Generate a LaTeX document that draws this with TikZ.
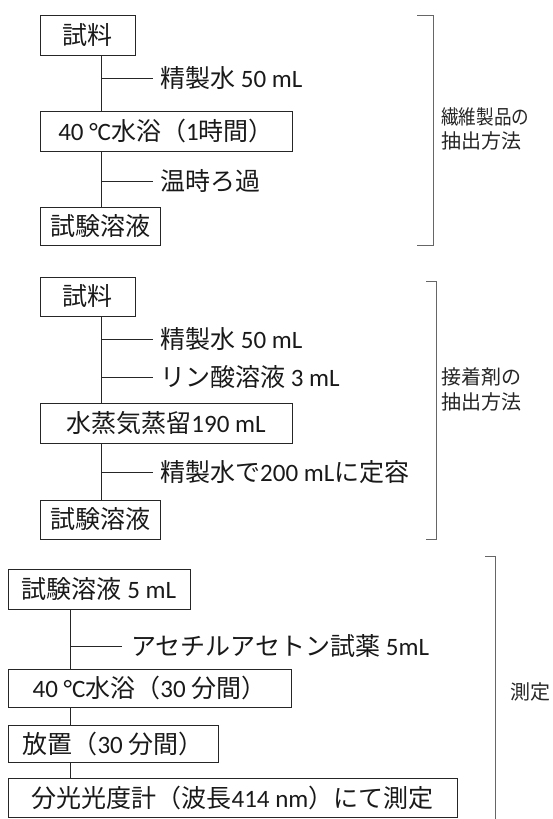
\documentclass[tikz,border=0pt]{standalone}
\usepackage{fontspec}
\usepackage{graphicx}
\setmainfont{Carlito}
\newfontfamily\jp[Scale=1.0]{Noto Sans CJK JP}
\begin{document}
\begin{tikzpicture}[x=1pt,y=-1pt,
  box/.style={draw=black!85, line width=0.9pt, inner sep=0pt, align=center,
    font=\fontsize{25}{28}\selectfont, text=black!90},
  lbl/.style={inner sep=0pt, anchor=west, font=\fontsize{25}{28}\selectfont, text=black!90},
  side/.style={inner sep=0pt, anchor=west, align=left, text=black!85},
  conn/.style={draw=black!85, line width=0.9pt},
  brk/.style={draw=black!60, line width=0.6pt}
]
\useasboundingbox (0,0) rectangle (553,819);

% ---------- top section ----------
\node[box, minimum width=95pt, minimum height=40pt] (a1) at (87.5,35) {\jp 試料};
\node[box, minimum width=252pt, minimum height=40pt] (a2) at (166,131) {40 °C{\jp 水浴（}1{\jp 時間）}};
\node[box, minimum width=120pt, minimum height=38pt] (a3) at (100,226) {\jp 試験溶液};
\coordinate (sa) at (101,0);
\node[lbl] (ta1) at (160,78) {{\jp 精製水} 50 mL};
\node[lbl] (ta2) at (160,181) {\jp 温時ろ過};
\draw[conn] (sa |- a1.south) -- (sa |- a2.north);
\draw[conn] (sa |- a2.south) -- (sa |- a3.north);
\draw[conn] (sa |- ta1.west) -- ([xshift=-7pt]ta1.west);
\draw[conn] (sa |- ta2.west) -- ([xshift=-7pt]ta2.west);
\draw[brk] (417,15) -- (433,15) -- (433,245) -- (417,245);
\node[side, font=\fontsize{20}{24}\selectfont] (la) at (441,129) {\scalebox{0.88}[1]{\jp 繊維製品の}\\\jp 抽出方法};

% ---------- middle section ----------
\node[box, minimum width=95pt, minimum height=39pt] (b1) at (87.5,296.5) {\jp 試料};
\node[box, minimum width=252pt, minimum height=40pt] (b2) at (166,423) {{\jp 水蒸気蒸留}190 mL};
\node[box, minimum width=120pt, minimum height=39pt] (b3) at (100,519.5) {\jp 試験溶液};
\coordinate (sb) at (101,0);
\node[lbl] (tb1) at (160,339) {{\jp 精製水} 50 mL};
\node[lbl] (tb2) at (160,377) {{\jp リン酸溶液} 3 mL};
\node[lbl] (tb3) at (160,472) {{\jp 精製水で}200 mL{\jp に定容}};
\draw[conn] (sb |- b1.south) -- (sb |- b2.north);
\draw[conn] (sb |- b2.south) -- (sb |- b3.north);
\draw[conn] (sb |- tb1.west) -- ([xshift=-7pt]tb1.west);
\draw[conn] (sb |- tb2.west) -- ([xshift=-7pt]tb2.west);
\draw[conn] (sb |- tb3.west) -- ([xshift=-7pt]tb3.west);
\draw[brk] (426,281) -- (436,281) -- (436,539) -- (426,539);
\node[side, font=\fontsize{20}{25}\selectfont] (lb) at (441,389.5) {\jp 接着剤の\\\jp 抽出方法};

% ---------- bottom section ----------
\node[box, minimum width=182pt, minimum height=40pt] (c1) at (99,589) {{\jp 試験溶液} 5 mL};
\node[box, minimum width=283pt, minimum height=38pt] (c2) at (149.5,688) {40 °C{\jp 水浴（}30 {\jp 分間）}};
\node[box, minimum width=210pt, minimum height=37pt] (c3) at (113,743.5) {{\jp 放置（}30 {\jp 分間）}};
\node[box, minimum width=449pt, minimum height=39pt] (c4) at (232.5,797.5) {{\jp 分光光度計（波長}414 nm{\jp ）にて測定}};
\coordinate (sc) at (70,0);
\node[lbl] (tc1) at (131,646) {{\jp アセチルアセトン試薬} 5mL};
\draw[conn] (sc |- c1.south) -- (sc |- c2.north);
\draw[conn] (sc |- c2.south) -- (sc |- c3.north);
\draw[conn] (sc |- c3.south) -- (sc |- c4.north);
\draw[conn] (sc |- tc1.west) -- ([xshift=-9pt]tc1.west);
\draw[brk] (485,556) -- (495,556) -- (495,819);
\node[side, font=\fontsize{20}{24}\selectfont] (lc) at (510,692) {\jp 測定};
\end{tikzpicture}
\end{document}
